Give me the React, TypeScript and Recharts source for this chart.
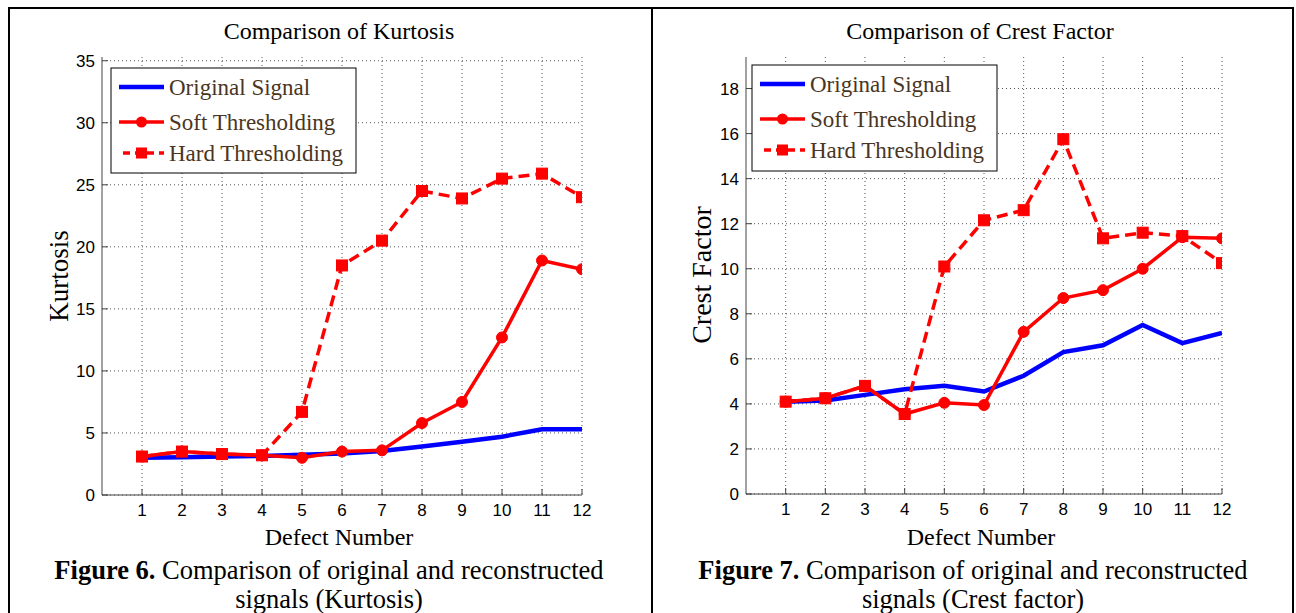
import React from 'react';
import { LineChart, Line, XAxis, YAxis, CartesianGrid } from 'recharts';

const defects = [1, 2, 3, 4, 5, 6, 7, 8, 9, 10, 11, 12];

const kurtOriginal = [3.0, 3.05, 3.1, 3.15, 3.25, 3.35, 3.55, 3.9, 4.3, 4.7, 5.3, 5.3];
const kurtSoft = [3.1, 3.5, 3.3, 3.2, 3.0, 3.5, 3.6, 5.8, 7.5, 12.7, 18.9, 18.2];
const kurtHard = [3.1, 3.5, 3.3, 3.2, 6.7, 18.5, 20.5, 24.5, 23.9, 25.5, 25.9, 24.0];

const crestOriginal = [4.1, 4.15, 4.4, 4.65, 4.8, 4.55, 5.25, 6.3, 6.6, 7.5, 6.7, 7.15];
const crestSoft = [4.1, 4.25, 4.8, 3.55, 4.05, 3.95, 7.2, 8.7, 9.05, 10.0, 11.4, 11.35];
const crestHard = [4.1, 4.25, 4.8, 3.55, 10.1, 12.15, 12.6, 15.75, 11.35, 11.6, 11.45, 10.25];

const kurtTicks = [0, 5, 10, 15, 20, 25, 30, 35];
const crestTicks = [0, 2, 4, 6, 8, 10, 12, 14, 16, 18];

const legendLabels = ['Original Signal', 'Soft Thresholding', 'Hard Thresholding'];

const SERIF = "'Liberation Serif', 'Times New Roman', serif";
const SANS = "'Liberation Sans', Arial, sans-serif";
const RED = '#ff0000';
const BLUE = '#0000ff';
const AXIS = '#444444';
const LEGEND_TEXT = '#4a3522';

function build(orig: number[], soft: number[], hard: number[]) {
  return defects.map((d, i) => ({ x: d, orig: orig[i], soft: soft[i], hard: hard[i] }));
}

const kurtData = build(kurtOriginal, kurtSoft, kurtHard);
const crestData = build(crestOriginal, crestSoft, crestHard);

const CircleDot = (props: any) => {
  const { cx, cy, index } = props;
  if (cx == null || cy == null) return null;
  return <circle key={`c${index}`} cx={cx} cy={cy} r={5.5} fill={RED} stroke={RED} strokeWidth={1} />;
};

const SquareDot = (props: any) => {
  const { cx, cy, index } = props;
  if (cx == null || cy == null) return null;
  return <rect key={`s${index}`} x={cx - 5.5} y={cy - 5.5} width={11} height={11} fill={RED} stroke={RED} strokeWidth={1} />;
};

type PanelProps = {
  left: number;
  width: number;
  marginLeft: number;
  marginRight: number;
  marginBottom: number;
  data: any[];
  yDomain: [number, number];
  yTicks: number[];
};

function Panel({ left, width, marginLeft, marginRight, marginBottom, data, yDomain, yTicks }: PanelProps) {
  const tickStyle = { fill: '#000', fontSize: 17, fontFamily: SANS };
  return (
    <div style={{ position: 'absolute', left, top: 0 }}>
      <LineChart
        width={width}
        height={613}
        data={data}
        margin={{ top: 57, right: marginRight, bottom: marginBottom, left: marginLeft }}
      >
        <CartesianGrid
          stroke="#555"
          strokeDasharray="1 3"
          strokeWidth={1}
          horizontalValues={yTicks}
          verticalValues={defects}
        />
        <XAxis
          dataKey="x"
          type="number"
          domain={[0, 12]}
          ticks={defects}
          interval={0}
          allowDataOverflow
          height={30}
          tickSize={-6}
          tickMargin={15}
          stroke={AXIS}
          tick={tickStyle}
        />
        <XAxis
          xAxisId="top"
          orientation="top"
          dataKey="x"
          type="number"
          domain={[0, 12]}
          ticks={defects}
          interval={0}
          allowDataOverflow
          height={0}
          tickSize={-6}
          tick={false}
          stroke={AXIS}
        />
        <YAxis
          type="number"
          domain={yDomain}
          ticks={yTicks}
          interval={0}
          allowDataOverflow
          width={50}
          tickSize={-6}
          tickMargin={13}
          stroke={AXIS}
          tick={tickStyle}
        />
        <YAxis
          yAxisId="right"
          orientation="right"
          type="number"
          domain={yDomain}
          ticks={yTicks}
          interval={0}
          allowDataOverflow
          width={0}
          tickSize={-6}
          tick={false}
          stroke={AXIS}
        />
        <Line dataKey="orig" stroke={BLUE} strokeWidth={4.5} dot={false} isAnimationActive={false} />
        <Line dataKey="soft" stroke={RED} strokeWidth={3.5} dot={CircleDot} isAnimationActive={false} />
        <Line
          dataKey="hard"
          stroke={RED}
          strokeWidth={3.5}
          strokeDasharray="11 6"
          dot={SquareDot}
          isAnimationActive={false}
        />
      </LineChart>
    </div>
  );
}

function LegendBox({ x, y, w, h }: { x: number; y: number; w: number; h: number }) {
  const rows = [y + 19, y + 54, y + 85];
  return (
    <g>
      <rect x={x} y={y} width={w} height={h} fill="#fff" stroke="#000" strokeWidth={1} />
      <line x1={x + 8} x2={x + 53} y1={rows[0]} y2={rows[0]} stroke={BLUE} strokeWidth={4.5} />
      <line x1={x + 8} x2={x + 53} y1={rows[1]} y2={rows[1]} stroke={RED} strokeWidth={3.5} />
      <circle cx={x + 30.5} cy={rows[1]} r={5.5} fill={RED} />
      <line
        x1={x + 12}
        x2={x + 53}
        y1={rows[2]}
        y2={rows[2]}
        stroke={RED}
        strokeWidth={3.5}
        strokeDasharray="7 5"
      />
      <rect x={x + 25} y={rows[2] - 5.5} width={11} height={11} fill={RED} />
      {legendLabels.map((lab, i) => (
        <text key={lab} x={x + 58} y={rows[i] + 8} fontFamily={SERIF} fontSize={23} fill={LEGEND_TEXT}>
          {lab}
        </text>
      ))}
    </g>
  );
}

export default function App() {
  return (
    <div
      style={{
        position: 'absolute',
        left: 0,
        top: 0,
        width: 1296,
        height: 613,
        background: '#fff',
        overflow: 'hidden',
      }}
    >
      <Panel
        left={0}
        width={650}
        marginLeft={52}
        marginRight={68}
        marginBottom={88}
        data={kurtData}
        yDomain={[0, 35.3]}
        yTicks={kurtTicks}
      />
      <Panel
        left={650}
        width={646}
        marginLeft={46}
        marginRight={74}
        marginBottom={89}
        data={crestData}
        yDomain={[0, 19.4]}
        yTicks={crestTicks}
      />
      <svg
        width={1296}
        height={613}
        style={{ position: 'absolute', left: 0, top: 0, pointerEvents: 'none' }}
      >
        <text x={339} y={39} textAnchor="middle" fontFamily={SERIF} fontSize={24} fill="#000">
          Comparison of Kurtosis
        </text>
        <text x={980} y={39} textAnchor="middle" fontFamily={SERIF} fontSize={24} fill="#000">
          Comparison of Crest Factor
        </text>
        <text
          x={68}
          y={276}
          transform="rotate(-90 68 276)"
          textAnchor="middle"
          fontFamily={SERIF}
          fontSize={27}
          fill="#000"
        >
          Kurtosis
        </text>
        <text
          x={711}
          y={275}
          transform="rotate(-90 711 275)"
          textAnchor="middle"
          fontFamily={SERIF}
          fontSize={28}
          fill="#000"
        >
          Crest Factor
        </text>
        <text x={339} y={545} textAnchor="middle" fontFamily={SERIF} fontSize={24} fill="#000">
          Defect Number
        </text>
        <text x={981} y={545} textAnchor="middle" fontFamily={SERIF} fontSize={24} fill="#000">
          Defect Number
        </text>
        <LegendBox x={111} y={68} w={245} h={105} />
        <LegendBox x={752} y={65} w={245} h={106} />
        <text x={329} y={579} textAnchor="middle" fontFamily={SERIF} fontSize={26.5} fill="#000">
          <tspan fontWeight="bold">Figure 6.</tspan> Comparison of original and reconstructed
        </text>
        <text x={329} y={608} textAnchor="middle" fontFamily={SERIF} fontSize={26.5} fill="#000">
          signals (Kurtosis)
        </text>
        <text x={973} y={579} textAnchor="middle" fontFamily={SERIF} fontSize={26.5} fill="#000">
          <tspan fontWeight="bold">Figure 7.</tspan> Comparison of original and reconstructed
        </text>
        <text x={973} y={608} textAnchor="middle" fontFamily={SERIF} fontSize={26.5} fill="#000">
          signals (Crest factor)
        </text>
        <line x1={9} y1={7} x2={9} y2={613} stroke="#000" strokeWidth={2} />
        <line x1={8} y1={8} x2={1294} y2={8} stroke="#000" strokeWidth={2} />
        <line x1={652} y1={7} x2={652} y2={613} stroke="#000" strokeWidth={2} />
        <line x1={1293} y1={7} x2={1293} y2={613} stroke="#000" strokeWidth={2} />
      </svg>
    </div>
  );
}
